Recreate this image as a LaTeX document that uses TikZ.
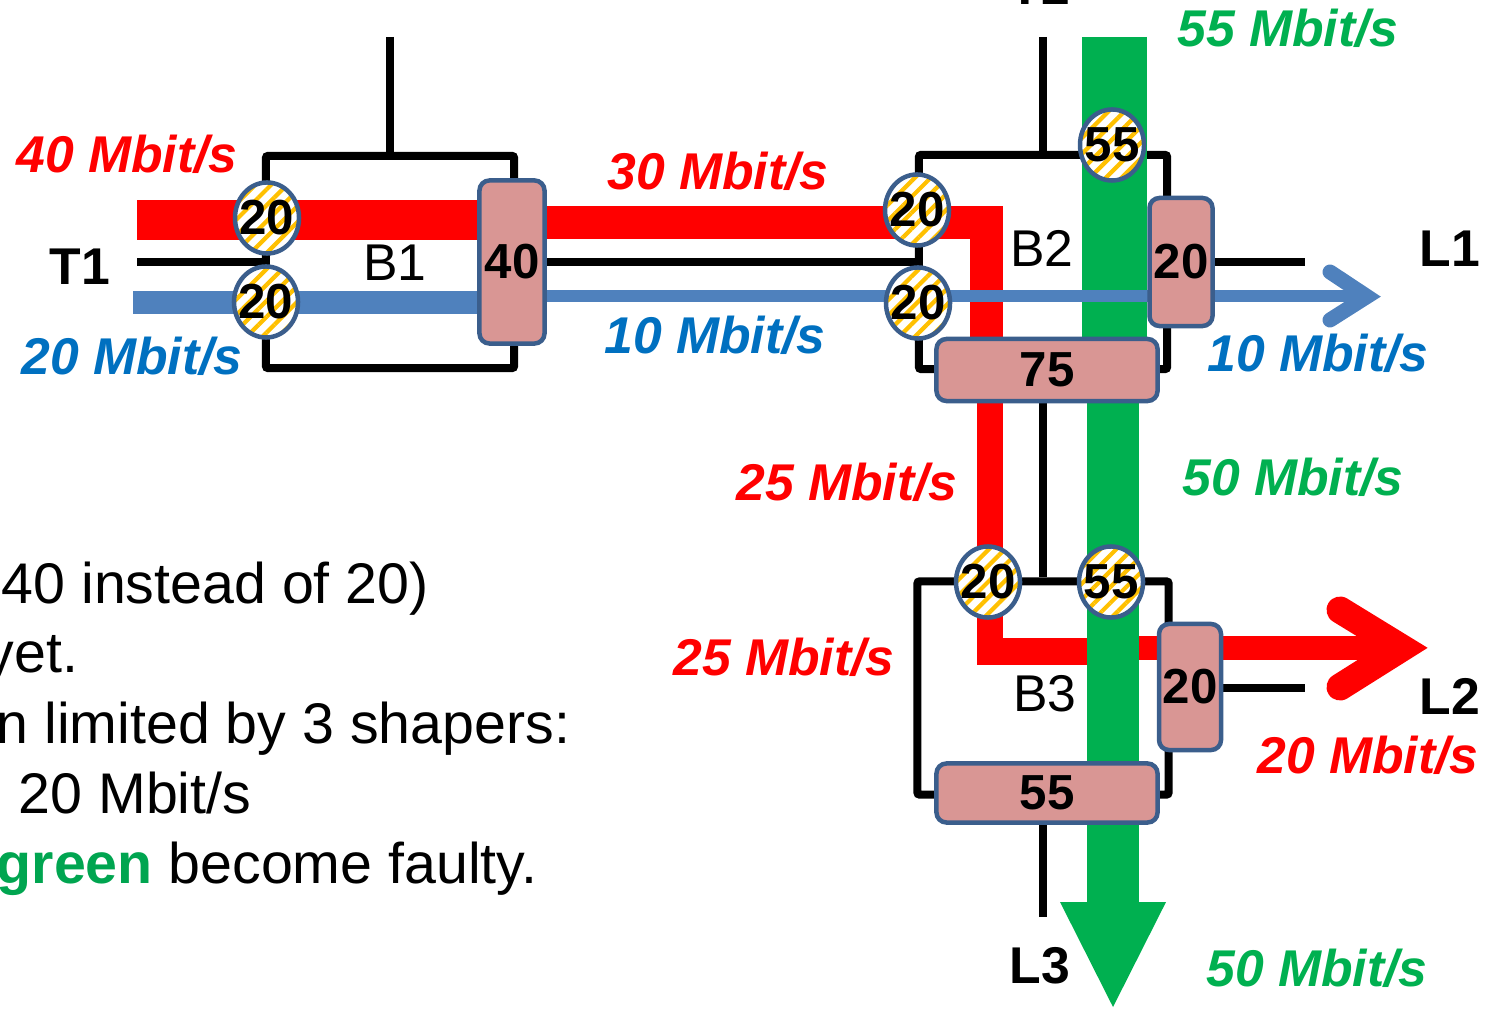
\documentclass[tikz,border=0pt]{standalone}
\usepackage{fontspec}
\setmainfont{Liberation Sans}
\usepackage{xcolor}
\usetikzlibrary{shapes.geometric}
\usetikzlibrary{patterns.meta}

\definecolor{flowred}{HTML}{FF0000}
\definecolor{flowblue}{HTML}{4F81BD}
\definecolor{rateblue}{HTML}{0070C0}
\definecolor{flowgreen}{HTML}{00B050}
\definecolor{notegreen}{HTML}{00A550}
\definecolor{shfill}{HTML}{D99694}
\definecolor{shbord}{HTML}{3B5E8C}
\definecolor{hatch}{HTML}{FFC000}

\newcommand{\ratefont}{\fontsize{14.7}{17}\selectfont\bfseries\itshape}
\newcommand{\portfont}{\fontsize{14.7}{17}\selectfont\bfseries}
\newcommand{\bridgefont}{\fontsize{14.7}{17}\selectfont}
\newcommand{\numfont}{\fontsize{14}{16}\selectfont\bfseries}
\newcommand{\notefont}{\fontsize{16.3}{20}\selectfont}
\newcommand{\capval}[1]{\makebox[0pt]{#1}}

\begin{document}
\begin{tikzpicture}[x=0.01cm, y=-0.01cm,
    bridge/.style={draw, line width=0.08cm, rounded corners=0.02cm, inner sep=0pt},
    wire/.style={line width=0.08cm},
    limiter/.style={ellipse, draw=shbord, line width=0.045cm, inner sep=0pt,
      minimum width=0.64cm, minimum height=0.71cm, preaction={fill=white},
      pattern={Lines[angle=45, distance=3.2pt, line width=1.2pt]}, pattern color=hatch,
      font=\numfont},
    shaper/.style={rectangle, rounded corners=0.1cm, draw=shbord, fill=shfill,
      line width=0.045cm, inner sep=0pt, font=\numfont},
    rate/.style={anchor=base, font=\ratefont},
    port/.style={anchor=base, font=\portfont},
    blabel/.style={anchor=base, font=\bridgefont},
    note/.style={anchor=base west, inner sep=0pt, font=\notefont}]
  \useasboundingbox (0,0) rectangle (1489,1013);

  % Puentes
  \node[bridge, minimum width=2.48cm, minimum height=2.12cm] (B1) at (390,262) {};
  \node[bridge, minimum width=2.48cm, minimum height=2.14cm] (B2) at (1043,262) {};
  \node[bridge, minimum width=2.51cm, minimum height=2.13cm] (B3) at (1043,688) {};

  % Enlaces
  \coordinate (T1w) at (137,262);
  \coordinate (T0w) at (390,37);
  \coordinate (T2w) at (1043,37);
  \coordinate (L1w) at (1305,262);
  \coordinate (L2w) at (1305,688);
  \coordinate (L3w) at (1043,917);
  \draw[wire] (T1w) -- (B1.west);
  \draw[wire] (T0w) -- (B1.north);
  \draw[wire] (B1.east) -- (B2.west);
  \draw[wire] (T2w) -- (B2.north);
  \draw[wire] (B2.east) -- (L1w);
  \draw[wire] (B2.south) -- (B3.north);
  \draw[wire] (B3.east) -- (L2w);
  \draw[wire] (B3.south) -- (L3w);

  % Flujo rojo
  \coordinate (rIn) at (137,220);
  \coordinate (rB1) at (512,220);
  \coordinate (rB1o) at (512,222.5);
  \coordinate (rB2) at (986.5,222.5);
  \coordinate (r75) at (986.5,370);
  \coordinate (r75o) at (990,370);
  \coordinate (rB3) at (990,651.5);
  \coordinate (rX) at (1113,651.5);
  \coordinate (rXo) at (1113,648);
  \coordinate (rTip) at (1402,648);
  \coordinate (rA1) at (1340,610);
  \coordinate (rA2) at (1340,687);
  \draw[flowred, line width=0.40cm] (rIn) -- (rB1);
  \draw[flowred, line width=0.33cm] (rB1o) -- (rB2) -- (r75);
  \draw[flowred, line width=0.265cm] (r75o) -- (rB3) -- (rX);
  \draw[flowred, line width=0.24cm] (rXo) -- (rTip);
  \draw[flowred, line width=0.27cm, line cap=round] (rA1) -- (rTip) -- (rA2);

  % Flujo verde
  \coordinate (gIn) at (1114.5,37);
  \coordinate (g75) at (1114.5,370);
  \coordinate (g75o) at (1113,370);
  \coordinate (gEnd) at (1113,903);
  \coordinate (gH1) at (1060,902);
  \coordinate (gH2) at (1166,902);
  \coordinate (gTip) at (1113,1007);
  \draw[flowgreen, line width=0.65cm] (gIn) -- (g75);
  \draw[flowgreen, line width=0.52cm] (g75o) -- (gEnd);
  \fill[flowgreen] (gH1) -- (gH2) -- (gTip) -- cycle;

  % Flujo azul
  \coordinate (bIn) at (133,302.5);
  \coordinate (bB1) at (512,302.5);
  \coordinate (bB1o) at (512,296.5);
  \coordinate (bTip) at (1367,296.5);
  \coordinate (bA1) at (1330,272);
  \coordinate (bA2) at (1330,320);
  \draw[flowblue, line width=0.22cm] (bIn) -- (bB1);
  \draw[flowblue, line width=0.12cm] (bB1o) -- (bTip);
  \draw[flowblue, line width=0.15cm, line cap=round] (bA1) -- (bTip) -- (bA2);

  % Limitadores
  \node[limiter] (c1) at (267,218) {\capval{20}};
  \node[limiter] (c2) at (266,302) {\capval{20}};
  \node[limiter] (c3) at (917,210) {\capval{20}};
  \node[limiter] (c4) at (918,303) {\capval{20}};
  \node[limiter] (c5) at (1112,145) {\capval{55}};
  \node[limiter] (c6) at (988,582) {\capval{20}};
  \node[limiter] (c7) at (1111,582) {\capval{55}};

  % Shapers
  \node[shaper, minimum width=0.65cm, minimum height=1.63cm] (s1) at (512,262) {40};
  \node[shaper, minimum width=0.63cm, minimum height=1.28cm] (s2) at (1181,262) {20};
  \node[shaper, minimum width=2.21cm, minimum height=0.62cm] (s3) at (1047,370) {75};
  \node[shaper, minimum width=0.62cm, minimum height=1.26cm] (s4) at (1190,687) {20};
  \node[shaper, minimum width=2.21cm, minimum height=0.59cm] (s5) at (1047,793) {55};

  % Etiquetas
  \node[port] (T1) at (80,285) {T1};
  \node[port] (T2) at (1040,5) {T2};
  \node[port] (L1) at (1450,267) {L1};
  \node[port] (L2) at (1450,714) {L2};
  \node[port] (L3) at (1040,983) {L3};
  \node[blabel] (nB1) at (395,281) {B1};
  \node[blabel] (nB2) at (1042,267) {B2};
  \node[blabel] (nB3) at (1045,711) {B3};
  \node[rate, flowred] (q1) at (127,173) {40 Mbit/s};
  \node[rate, rateblue] (q2) at (132,375) {20 Mbit/s};
  \node[rate, flowred] (q3) at (718,190) {30 Mbit/s};
  \node[rate, rateblue] (q4) at (715,354) {10 Mbit/s};
  \node[rate, flowgreen] (q5) at (1288,47) {55 Mbit/s};
  \node[rate, rateblue] (q6) at (1318,372) {10 Mbit/s};
  \node[rate, flowred] (q7) at (847,500) {25 Mbit/s};
  \node[rate, flowgreen] (q8) at (1293,495) {50 Mbit/s};
  \node[rate, flowred] (q9) at (784,675) {25 Mbit/s};
  \node[rate, flowred] (q10) at (1368,773) {20 Mbit/s};
  \node[rate, flowgreen] (q11) at (1317,986) {50 Mbit/s};

  % Texto
  \node[note] (n1) at (1,603) {40 instead of 20)};
  \node[note] (n2) at (-15,672) {yet.};
  \node[note] (n3) at (-4,743) {n limited by 3 shapers:};
  \node[note] (n4) at (18,813) {20 Mbit/s};
  \node[note] (n5) at (-4,883) {{\bfseries\color{notegreen}green} become faulty.};
\end{tikzpicture}
\end{document}
